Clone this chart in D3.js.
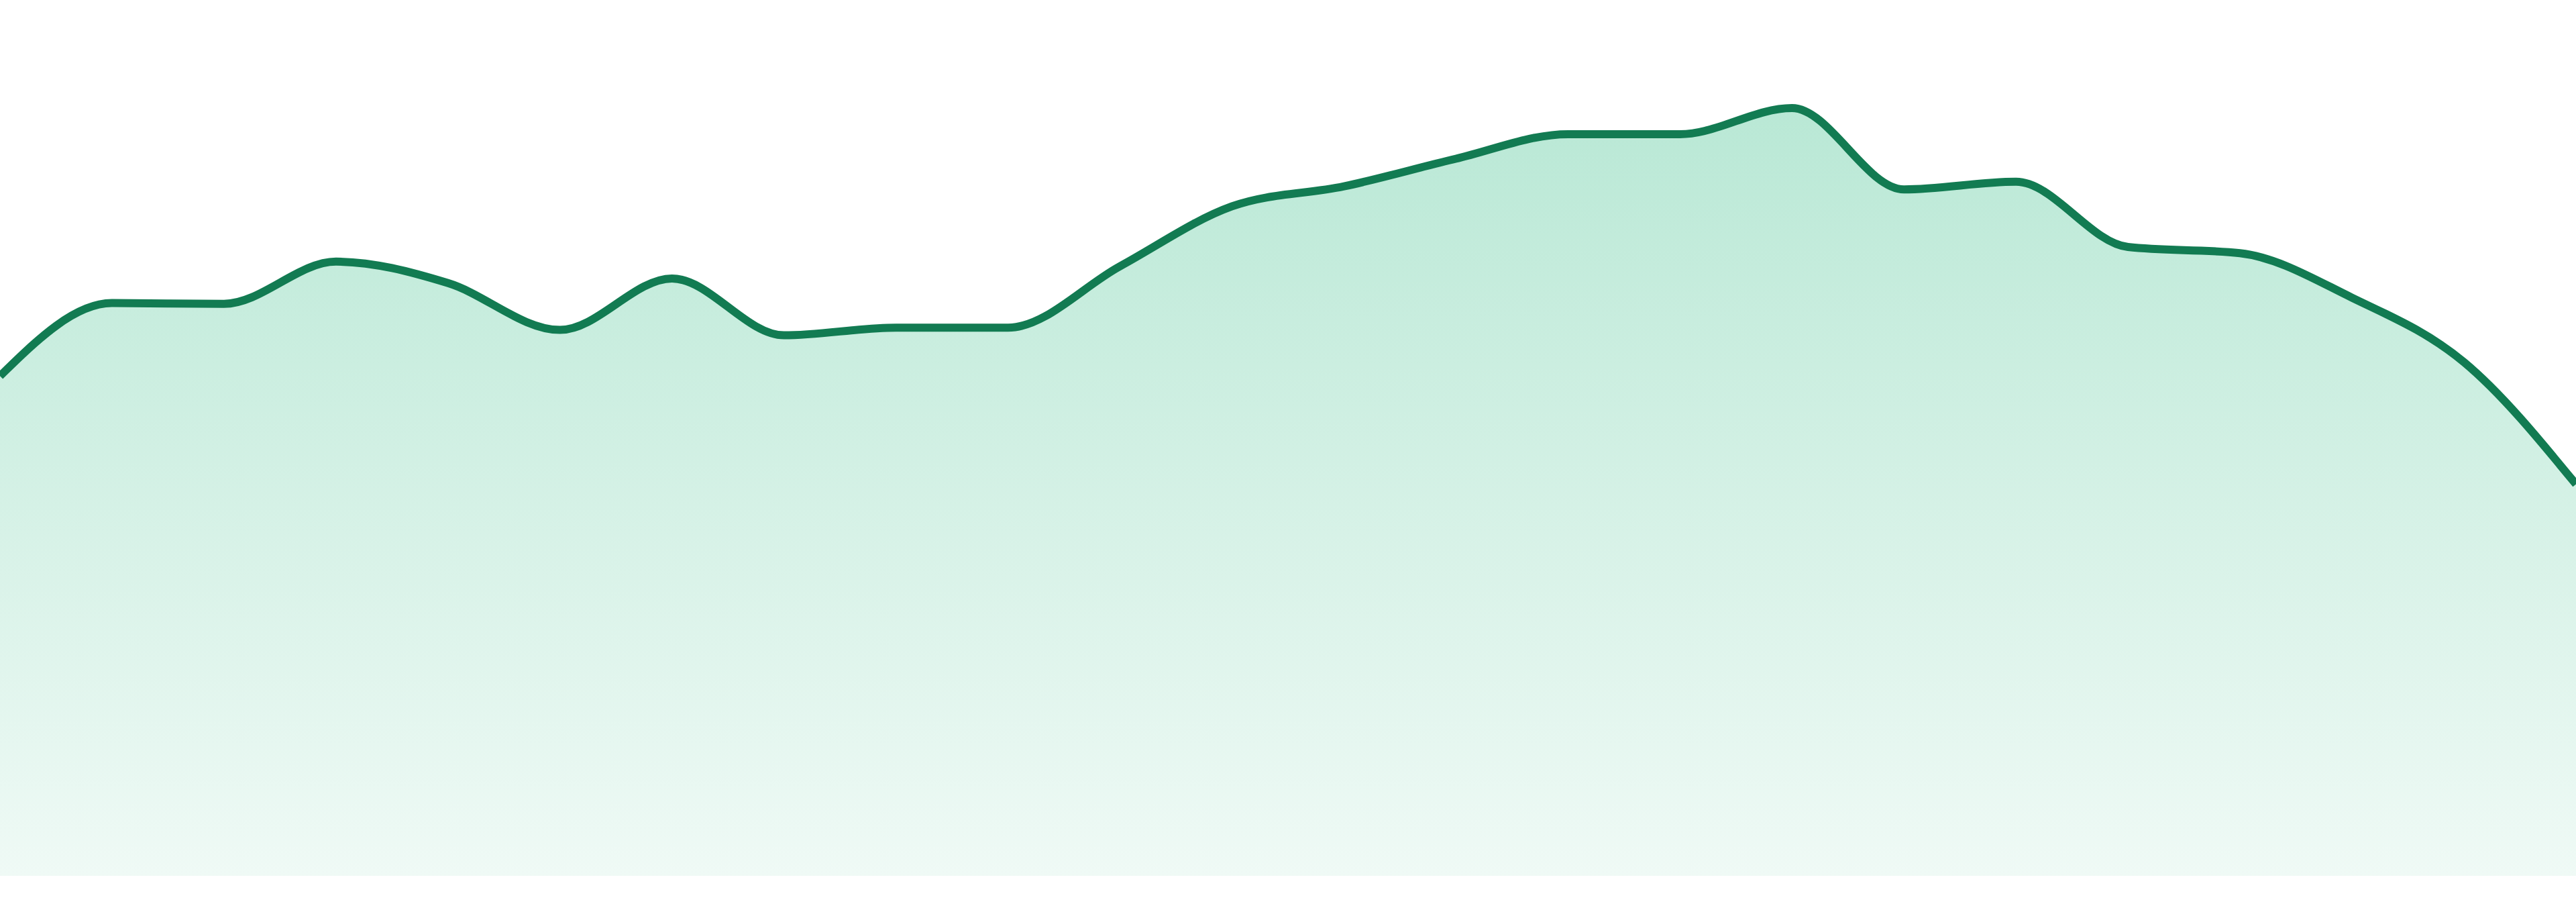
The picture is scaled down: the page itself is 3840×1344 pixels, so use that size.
<!DOCTYPE html>
<html>
<head>
<meta charset="utf-8">
<script src="https://cdn.jsdelivr.net/npm/d3@7"></script>
<style>
  html, body { margin: 0; padding: 0; background: #ffffff; }
  svg { display: block; }
</style>
</head>
<body>
<div id="chart"></div>
<script>
// one value per step, 24 steps
var steps = d3.range(24);
var values = [65.1, 74.6, 74.5, 80.0, 77.2, 71.1, 77.8, 70.4, 71.4, 71.4, 79.4, 87.2,
              89.8, 93.4, 96.6, 96.6, 100.0, 89.4, 90.4, 81.9, 81.1, 75.3, 66.9, 51.0];

var width = 3840, height = 1344;
var data = steps.map(function (s, i) { return { step: s, value: values[i] }; });

var svg = d3.select("#chart")
    .append("svg")
    .attr("width", width)
    .attr("height", height);

var x = d3.scaleLinear()
    .domain([0, steps.length - 1])
    .range([0, width]);

var y = d3.scaleLinear()
    .domain([0, 100])
    .range([1305, 161]);

var defs = svg.append("defs");
var grad = defs.append("linearGradient")
    .attr("id", "fillGrad")
    .attr("gradientUnits", "userSpaceOnUse")
    .attr("x1", 0).attr("x2", 0)
    .attr("y1", y(100)).attr("y2", y(0));
grad.append("stop").attr("offset", "0%").attr("stop-color", "#1db578").attr("stop-opacity", 0.31);
grad.append("stop").attr("offset", "100%").attr("stop-color", "#1db578").attr("stop-opacity", 0.07);

var area = d3.area()
    .x(function (d) { return x(d.step); })
    .y0(y(0))
    .y1(function (d) { return y(d.value); })
    .curve(d3.curveMonotoneX);

var line = d3.line()
    .x(function (d) { return x(d.step); })
    .y(function (d) { return y(d.value); })
    .curve(d3.curveMonotoneX);

svg.append("path")
    .datum(data)
    .attr("d", area)
    .style("fill", "url(#fillGrad)");

svg.append("path")
    .datum(data)
    .attr("d", line)
    .style("fill", "none")
    .style("stroke", "#127b52")
    .style("stroke-width", 12)
    .style("stroke-linejoin", "round");
</script>
</body>
</html>
